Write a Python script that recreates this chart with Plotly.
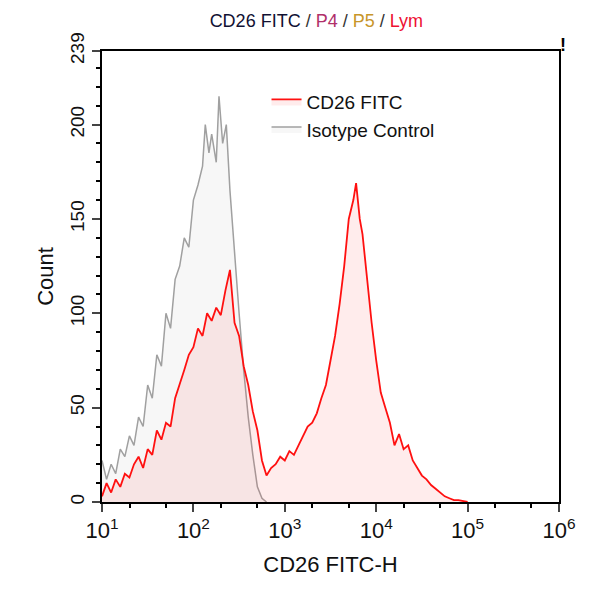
import numpy as np
import plotly.graph_objects as go

# log10 positions of histogram bins and counts
cd26_logx = [1.00, 1.05, 1.10, 1.15, 1.20, 1.25, 1.30, 1.35, 1.40, 1.45, 1.50, 1.55, 1.60, 1.65,
             1.70, 1.75, 1.80, 1.85, 1.90, 1.95, 2.00, 2.05, 2.10, 2.15, 2.20, 2.25, 2.30, 2.35,
             2.40, 2.45, 2.50, 2.55, 2.60, 2.65, 2.70, 2.75, 2.80, 2.85, 2.90, 2.95, 3.00, 3.05,
             3.10, 3.15, 3.20, 3.25, 3.30, 3.35, 3.40, 3.45, 3.50, 3.55, 3.60, 3.65, 3.70, 3.75,
             3.78, 3.82, 3.85, 3.90, 3.95, 4.00, 4.05, 4.10, 4.15, 4.20, 4.25, 4.30, 4.35, 4.40,
             4.45, 4.50, 4.55, 4.60, 4.65, 4.70, 4.75, 4.80, 4.85, 4.90, 5.00]
cd26_count = [3, 10, 5, 12, 8, 15, 13, 20, 24, 18, 28, 25, 38, 33, 42, 40, 55, 62, 70, 78,
              82, 92, 88, 100, 96, 103, 99, 112, 123, 95, 88, 72, 62, 48, 38, 22, 14, 18, 20, 24,
              22, 27, 25, 30, 35, 40, 42, 47, 55, 62, 75, 88, 105, 125, 150, 160, 169, 150, 142,
              118, 95, 75, 58, 50, 42, 30, 36, 28, 30, 22, 18, 14, 12, 9, 7, 5, 3, 2, 1, 1, 0]

iso_logx = [1.00, 1.05, 1.10, 1.15, 1.20, 1.25, 1.30, 1.35, 1.40, 1.45, 1.50, 1.55, 1.60, 1.65,
            1.70, 1.75, 1.80, 1.85, 1.90, 1.95, 2.00, 2.05, 2.10, 2.13, 2.17, 2.20, 2.25, 2.28,
            2.32, 2.36, 2.40, 2.45, 2.50, 2.55, 2.60, 2.65, 2.70, 2.75, 2.80]
iso_count = [22, 12, 20, 15, 28, 24, 35, 30, 45, 40, 62, 55, 78, 72, 100, 92, 118, 125, 140, 135,
             160, 168, 178, 200, 185, 195, 180, 215, 190, 200, 165, 130, 100, 70, 45, 25, 8, 2, 0]

title_parts = [("CD26 FITC ", "#111133"), ("/ ", "#333"), ("P4", "#b0306a"), (" / ", "#333"),
               ("P5", "#c8962a"), (" / ", "#333"), ("Lym", "#ee1133")]

fig = go.Figure()
fig.add_trace(go.Scatter(
    x=np.power(10, iso_logx), y=iso_count, name="Isotype Control", mode="lines",
    line=dict(color="#a0a0a0", width=1.5),
    fill="tozeroy", fillcolor="rgba(200,200,200,0.15)"))
fig.add_trace(go.Scatter(
    x=np.power(10, cd26_logx), y=cd26_count, name="CD26 FITC", mode="lines",
    line=dict(color="#ff1010", width=1.8),
    fill="tozeroy", fillcolor="rgba(255,40,40,0.09)"))

title = "".join(f"<span style='color:{c}'>{t}</span>" for t, c in title_parts)
fig.update_layout(
    width=593, height=600,
    margin=dict(l=94, r=42, t=43, b=106),
    paper_bgcolor="white", plot_bgcolor="white",
    font=dict(family="Liberation Sans, Arial", size=18, color="#111"),
    title=dict(text=title, x=0.52, xanchor="center", y=0.99, yanchor="top", font=dict(size=18)),
    legend=dict(x=0.36, y=0.93, xanchor="left", yanchor="top", traceorder="reversed",
                bgcolor="rgba(0,0,0,0)", font=dict(size=19)),
    showlegend=True,
)
fig.update_xaxes(
    type="log", range=[1, 6], showline=True, linecolor="black", linewidth=2, mirror=True,
    ticks="outside", ticklen=8, tickwidth=1.5, showgrid=False, zeroline=False,
    tickvals=[10, 100, 1e3, 1e4, 1e5, 1e6],
    ticktext=["10<sup>1</sup>", "10<sup>2</sup>", "10<sup>3</sup>", "10<sup>4</sup>",
              "10<sup>5</sup>", "10<sup>6</sup>"],
    minor=dict(ticks="outside", ticklen=4, tickcolor="black"),
    title=dict(text="CD26 FITC-H", standoff=14), tickfont=dict(size=22))
fig.update_yaxes(
    range=[0, 239], showline=True, linecolor="black", linewidth=2, mirror=True,
    ticks="outside", ticklen=8, tickwidth=1.5, showgrid=False, zeroline=False,
    tickvals=[0, 50, 100, 150, 200, 239], tickangle=-90,
    minor=dict(ticks="outside", ticklen=4, dtick=10, tickcolor="black"),
    title=dict(text="Count", standoff=8), tickfont=dict(size=19))
fig.add_annotation(text="<b>!</b>", x=1.02, y=1.04, xref="paper", yref="paper",
                   showarrow=False, font=dict(size=18, color="black"))

fig.write_html("out.html")
